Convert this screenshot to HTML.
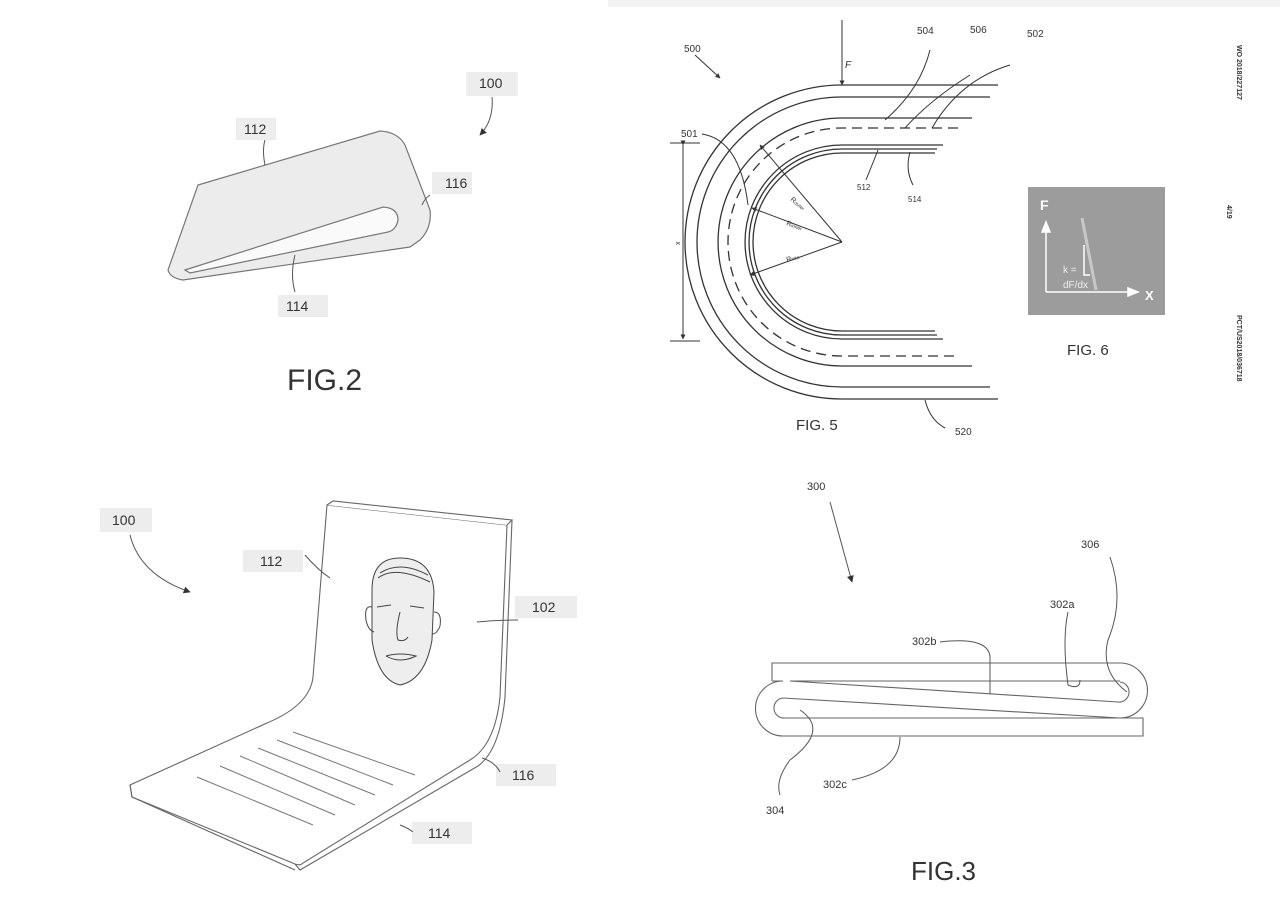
<!DOCTYPE html>
<html><head><meta charset="utf-8"><style>
html,body{margin:0;padding:0;background:#fff;}
svg{display:block;}
text{font-family:"Liberation Sans",sans-serif;fill:#333;}
</style></head><body>
<svg width="1280" height="905" viewBox="0 0 1280 905" xmlns="http://www.w3.org/2000/svg">
<defs>
<marker id="ah" viewBox="0 0 10 10" refX="9" refY="5" markerWidth="7" markerHeight="7" orient="auto"><path d="M0,0 L10,5 L0,10 z" fill="#333"/></marker>
<marker id="ah2" viewBox="0 0 10 10" refX="9" refY="5" markerWidth="5" markerHeight="5" orient="auto"><path d="M0,0 L10,5 L0,10 z" fill="#333"/></marker>
</defs>
<rect x="608" y="0" width="672" height="7" fill="#f2f2f2"/>

<!-- FIG 2 -->
<g stroke="#777" stroke-width="1.2" fill="#ececec">
<path d="M198,185 L380,131 Q398,132 405,145 L430,210 Q432,228 420,240 L410,247 L183,280 Q170,278 168,270 Z"/>
<path d="M185,270 L383,207 Q398,208 398,220 Q396,230 388,232 L190,273 Z" fill="#fafafa"/>
</g>
<rect x="236" y="118" width="40" height="22" fill="#ededed"/><text x="244" y="134" font-size="14">112</text>
<rect x="432" y="172" width="40" height="22" fill="#ededed"/><text x="445" y="188" font-size="14">116</text>
<rect x="278" y="295" width="50" height="22" fill="#ededed"/><text x="286" y="311" font-size="14">114</text>
<rect x="466" y="72" width="52" height="24" fill="#ededed"/><text x="479" y="88" font-size="14">100</text>
<g stroke="#555" fill="none" stroke-width="1">
<path d="M265,140 Q262,150 265,165"/>
<path d="M430,195 Q425,198 422,205"/>
<path d="M295,255 Q290,275 295,292"/>
<path d="M492,97 Q494,120 480,135" marker-end="url(#ah)"/>
</g>
<text x="287" y="390" font-size="30">FIG.2</text>

<!-- FIG 5 -->
<g fill="none" stroke="#333" stroke-width="1.3">
<path d="M998,85 L842,85 A157,157 0 0 0 842,399 L998,399"/>
<path d="M990,97 L842,97 A145,145 0 0 0 842,387 L990,387"/>
<path d="M972,118 L842,118 A124,124 0 0 0 842,366 L972,366"/>
<path d="M958,128 L842,128 A114,114 0 0 0 842,356 L958,356" stroke-dasharray="10,6"/>
<path d="M943,145 L842,145 A97,97 0 0 0 842,339 L943,339"/>
<path d="M937,149 L842,149 A93,93 0 0 0 842,335 L937,335"/>
<path d="M935,153 L842,153 A89,89 0 0 0 842,331 L935,331"/>
</g>
<g stroke="#333" stroke-width="1" fill="none">
<line x1="842" y1="20" x2="842" y2="85" marker-end="url(#ah2)"/>
<line x1="670" y1="143" x2="700" y2="143"/><line x1="670" y1="341" x2="700" y2="341"/>
<line x1="683" y1="145" x2="683" y2="339" marker-start="url(#ah2)" marker-end="url(#ah2)"/>
<line x1="842" y1="242" x2="760" y2="145" marker-end="url(#ah2)"/>
<line x1="842" y1="242" x2="752" y2="208" marker-end="url(#ah2)"/>
<line x1="842" y1="242" x2="750" y2="275" marker-end="url(#ah2)"/>
<line x1="695" y1="55" x2="720" y2="78" marker-end="url(#ah2)"/>
<path d="M702,134 Q740,140 748,205"/>
<path d="M885,120 Q920,90 930,50"/>
<path d="M905,128 Q930,100 970,75"/>
<path d="M932,128 Q960,80 1010,65"/>
<path d="M878,150 Q872,165 866,180"/>
<path d="M910,152 Q905,170 913,185"/>
<path d="M925,400 Q930,420 945,428"/>
</g>
<text x="684" y="52" font-size="10">500</text>
<text x="845" y="68" font-size="10" font-style="italic">F</text>
<text x="917" y="34" font-size="10">504</text>
<text x="970" y="33" font-size="10">506</text>
<text x="1027" y="37" font-size="10">502</text>
<text x="681" y="137" font-size="10">501</text>
<text x="857" y="190" font-size="8">512</text>
<text x="908" y="202" font-size="8">514</text>
<text x="955" y="435" font-size="10">520</text>
<text x="796" y="430" font-size="15">FIG. 5</text>
<text x="790" y="200" font-size="7" transform="rotate(40 790 200)">R<tspan font-size="5">outer</tspan></text>
<text x="786" y="225" font-size="7" transform="rotate(20 786 225)">R<tspan font-size="5">inner</tspan></text>
<text x="787" y="262" font-size="7" transform="rotate(-15 787 262)">R<tspan font-size="5">min</tspan></text>
<text x="680" y="245" font-size="7" transform="rotate(-90 680 245)">x</text>

<!-- FIG 6 -->
<rect x="1028" y="187" width="137" height="128" fill="#9c9c9c"/>
<g stroke="#fff" stroke-width="1.5" fill="none">
<line x1="1046" y1="292" x2="1046" y2="225"/><path d="M1042,232 L1046,222 L1050,232 Z" fill="#fff"/>
<line x1="1046" y1="292" x2="1132" y2="292"/><path d="M1128,288 L1138,292 L1128,296 Z" fill="#fff"/>
<polyline points="1084,245 1084,275 1090,275"/>
<line x1="1082" y1="218" x2="1096" y2="290" stroke="#c8c8c8" stroke-width="3"/>
</g>
<text x="1040" y="210" font-size="14" font-weight="bold" style="fill:#fff">F</text>
<text x="1145" y="300" font-size="13" font-weight="bold" style="fill:#fff">X</text>
<text x="1063" y="273" font-size="10" style="fill:#eee">k =</text>
<text x="1063" y="288" font-size="10" style="fill:#eee">dF/dx</text>
<text x="1067" y="355" font-size="15">FIG. 6</text>
<text x="1237" y="45" font-size="7" font-weight="bold" transform="rotate(90 1237 45)">WO 2018/227127</text>
<text x="1227" y="205" font-size="7" font-weight="bold" transform="rotate(90 1227 205)">4/19</text>
<text x="1237" y="315" font-size="7" font-weight="bold" transform="rotate(90 1237 315)">PCT/US2018/036718</text>

<!-- FIG 4 -->
<g stroke="#666" stroke-width="1.1" fill="#fff">
<path d="M327,505 L507,525 L500,697 Q495,745 470,760 L303,863 Q300,866 295,864 L132,797 L130,785 L267,723 Q310,705 313,677 Z"/>
<path d="M327,505 L333,501 L512,520 L507,525"/>
<path d="M512,520 L505,697 Q500,750 478,766 L300,870 L295,864" fill="none"/>
<path d="M130,785 L132,797 L295,870" fill="none"/>
</g>
<g stroke="#777" stroke-width="1">
<line x1="293" y1="732" x2="415" y2="775"/><line x1="277" y1="740" x2="393" y2="785"/>
<line x1="258" y1="748" x2="375" y2="795"/><line x1="240" y1="756" x2="355" y2="805"/>
<line x1="220" y1="766" x2="335" y2="815"/><line x1="197" y1="777" x2="313" y2="825"/>
</g>
<g stroke="#444" stroke-width="1" fill="#eee">
<path d="M372,590 Q372,558 400,558 Q432,558 434,592 L432,640 Q425,680 400,685 Q378,680 372,640 Z"/>
<path d="M372,607 Q364,605 366,620 Q368,630 374,632" fill="none"/>
<path d="M434,612 Q442,612 440,626 Q437,634 432,634" fill="none"/>
<path d="M378,578 Q395,565 430,582 M380,573 Q400,560 428,575" fill="none"/>
<path d="M377,607 L391,605 M410,606 L424,608" fill="none"/>
<path d="M400,612 Q395,632 398,640 Q405,642 408,637" fill="none"/>
<path d="M386,656 Q400,652 416,656 Q400,664 386,656" fill="none"/>
</g>
<rect x="100" y="508" width="52" height="24" fill="#ededed"/><text x="112" y="525" font-size="14">100</text>
<rect x="243" y="550" width="60" height="22" fill="#ededed"/><text x="260" y="566" font-size="14">112</text>
<rect x="515" y="596" width="62" height="22" fill="#ededed"/><text x="532" y="612" font-size="14">102</text>
<rect x="496" y="764" width="60" height="22" fill="#ededed"/><text x="512" y="780" font-size="14">116</text>
<rect x="412" y="822" width="60" height="22" fill="#ededed"/><text x="428" y="838" font-size="14">114</text>
<g stroke="#555" fill="none" stroke-width="1">
<path d="M130,535 Q140,575 190,592" marker-end="url(#ah)"/>
<path d="M305,555 Q318,570 330,578"/>
<path d="M477,622 Q495,620 518,620"/>
<path d="M482,758 Q495,762 500,772"/>
<path d="M400,825 Q408,828 413,832"/>
</g>

<!-- FIG 3 -->
<g stroke="#666" stroke-width="1.1" fill="none">
<path d="M772,681 L772,663 L1120,663 A27.5,27.5 0 0 1 1120,718 L1143,718 L1143,736 L783,736 A27.5,27.5 0 0 1 783,681 L772,681"/>
<path d="M790,681 L1120,681"/>
<path d="M790,681 L1118,702 A10,10 0 0 0 1120,682"/>
<path d="M783,698 L1120,718"/>
<path d="M783,698 A10,10 0 0 0 785,718 L1143,718"/>
</g>
<g stroke="#555" fill="none" stroke-width="1">
<line x1="830" y1="502" x2="852" y2="582" marker-end="url(#ah)"/>
<path d="M940,642 Q992,636 990,660 L990,694"/>
<path d="M1068,612 Q1062,640 1068,685 Q1080,690 1080,680"/>
<path d="M1110,557 Q1125,600 1108,640 Q1100,672 1127,692"/>
<path d="M800,710 Q830,730 790,760 Q775,780 780,795"/>
<path d="M852,780 Q900,770 900,737"/>
</g>
<text x="807" y="490" font-size="11">300</text>
<text x="1081" y="548" font-size="11">306</text>
<text x="1050" y="608" font-size="11">302a</text>
<text x="912" y="645" font-size="11">302b</text>
<text x="823" y="788" font-size="11">302c</text>
<text x="766" y="814" font-size="11">304</text>
<text x="911" y="880" font-size="26">FIG.3</text>
</svg>
</body></html>
